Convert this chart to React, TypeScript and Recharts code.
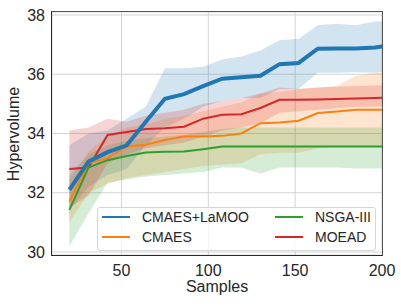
import React from 'react';
import { ComposedChart, Area, Line, XAxis, YAxis, CartesianGrid } from 'recharts';

// Samples on the x axis
const samples = [20, 31, 42, 53, 64, 75, 86, 97, 108, 119, 130, 141, 152, 163, 174, 185, 196, 207];

// CMAES+LaMOO
const lamooMean = [32.1, 33.05, 33.37, 33.6, 34.4, 35.17, 35.33, 35.6, 35.85, 35.9, 35.95, 36.34, 36.38, 36.86, 36.87, 36.87, 36.9, 37.0];
const lamooHi = [33.6, 34.0, 34.1, 34.5, 34.9, 36.2, 36.2, 36.25, 36.5, 36.6, 36.8, 37.15, 37.2, 37.65, 37.7, 37.65, 37.78, 37.8];
const lamooLo = [31.4, 32.2, 32.6, 32.8, 33.6, 34.2, 34.5, 34.9, 35.1, 35.2, 35.2, 35.5, 35.5, 36.05, 36.05, 36.07, 36.05, 36.15];

// CMAES
const cmaesMean = [31.7, 33.0, 33.17, 33.56, 33.62, 33.78, 33.9, 33.9, 33.92, 34.0, 34.35, 34.37, 34.43, 34.69, 34.74, 34.8, 34.8, 34.8];
const cmaesHi = [32.4, 33.4, 33.9, 34.2, 34.3, 34.5, 34.6, 34.75, 34.9, 35.05, 35.35, 35.4, 35.5, 35.55, 35.6, 35.95, 36.05, 36.1];
const cmaesLo = [31.0, 32.0, 32.3, 32.5, 32.6, 32.7, 32.8, 32.9, 32.95, 33.0, 33.3, 33.35, 33.35, 33.5, 33.55, 33.55, 33.55, 33.55];

// NSGA-III
const nsgaMean = [31.42, 32.85, 33.1, 33.24, 33.36, 33.38, 33.39, 33.47, 33.56, 33.56, 33.56, 33.56, 33.56, 33.56, 33.56, 33.56, 33.56, 33.56];
const nsgaHi = [32.6, 33.3, 33.6, 33.75, 33.85, 33.9, 33.95, 34.05, 34.15, 34.2, 34.2, 34.2, 34.2, 34.2, 34.2, 34.2, 34.2, 34.2];
const nsgaLo = [30.2, 31.3, 32.35, 32.45, 32.55, 32.6, 32.65, 32.7, 32.85, 32.85, 32.65, 32.85, 32.85, 32.85, 32.85, 32.82, 32.82, 32.82];

// MOEAD
const moeadMean = [32.8, 32.85, 33.95, 34.05, 34.15, 34.18, 34.23, 34.5, 34.63, 34.65, 34.86, 35.14, 35.14, 35.15, 35.16, 35.18, 35.2, 35.22];
const moeadHi = [34.1, 34.2, 34.5, 34.4, 34.6, 34.7, 34.8, 35.0, 35.1, 35.2, 35.35, 35.55, 35.5, 35.55, 35.58, 35.6, 35.62, 35.64];
const moeadLo = [31.5, 31.9, 33.0, 33.3, 33.5, 33.6, 33.7, 33.9, 34.1, 34.2, 34.35, 34.7, 34.75, 34.8, 34.85, 34.9, 34.9, 34.95];

const xTicks = [50, 100, 150, 200];
const yTicks = [30, 32, 34, 36, 38];

const BLUE = '#1f77b4';
const ORANGE = '#ff7f0e';
const GREEN = '#2ca02c';
const RED = '#d62728';

const data = samples.map((s, i) => ({
  s,
  lamoo: lamooMean[i],
  lamooBand: [lamooLo[i], lamooHi[i]],
  cmaes: cmaesMean[i],
  cmaesBand: [cmaesLo[i], cmaesHi[i]],
  nsga: nsgaMean[i],
  nsgaBand: [nsgaLo[i], nsgaHi[i]],
  moead: moeadMean[i],
  moeadBand: [moeadLo[i], moeadHi[i]],
}));

const FONT = '"Liberation Sans", Arial, sans-serif';
const TEXT = '#262626';

const legendItems = [
  { name: 'CMAES+LaMOO', color: BLUE, left: 102, top: 217 },
  { name: 'CMAES', color: ORANGE, left: 102, top: 237 },
  { name: 'NSGA-III', color: GREEN, left: 275, top: 217 },
  { name: 'MOEAD', color: RED, left: 275, top: 237 },
];

export default function App() {
  return (
    <div style={{ position: 'absolute', left: 0, top: 0, width: 401, height: 306, background: '#fff', fontFamily: FONT }}>
      <ComposedChart width={401} height={306} data={data} margin={{ top: 12, right: 19, left: 0, bottom: 0 }}>
        <CartesianGrid stroke="#d4d4d4" strokeWidth={1} />
        <XAxis
          dataKey="s"
          type="number"
          domain={[10, 200]}
          ticks={xTicks}
          allowDataOverflow
          height={51}
          tickLine={false}
          axisLine={false}
          tickSize={0}
          tickMargin={10}
          tick={{ fill: TEXT, fontSize: 16, fontFamily: FONT }}
        />
        <YAxis
          type="number"
          domain={[29.9, 38.1]}
          ticks={yTicks}
          allowDataOverflow
          width={52}
          tickLine={false}
          axisLine={false}
          tickSize={0}
          tickMargin={7}
          tick={{ fill: TEXT, fontSize: 16, fontFamily: FONT }}
        />
        <Area type="linear" dataKey="lamooBand" stroke="none" fill={BLUE} fillOpacity={0.2} isAnimationActive={false} activeDot={false} />
        <Area type="linear" dataKey="cmaesBand" stroke="none" fill={ORANGE} fillOpacity={0.2} isAnimationActive={false} activeDot={false} />
        <Area type="linear" dataKey="nsgaBand" stroke="none" fill={GREEN} fillOpacity={0.2} isAnimationActive={false} activeDot={false} />
        <Area type="linear" dataKey="moeadBand" stroke="none" fill={RED} fillOpacity={0.2} isAnimationActive={false} activeDot={false} />
        <Line type="linear" dataKey="moead" stroke={RED} strokeWidth={2} dot={false} activeDot={false} isAnimationActive={false} />
        <Line type="linear" dataKey="nsga" stroke={GREEN} strokeWidth={2} dot={false} activeDot={false} isAnimationActive={false} />
        <Line type="linear" dataKey="cmaes" stroke={ORANGE} strokeWidth={2} dot={false} activeDot={false} isAnimationActive={false} />
        <Line type="linear" dataKey="lamoo" stroke={BLUE} strokeWidth={4} dot={false} activeDot={false} isAnimationActive={false} />
      </ComposedChart>

      {/* plot frame */}
      <div style={{ position: 'absolute', left: 51, top: 11, width: 330, height: 243, border: '1.5px solid #2a2a2a', borderTopColor: '#555', borderRightColor: '#555', pointerEvents: 'none' }} />

      {/* legend */}
      <div style={{ position: 'absolute', left: 97, top: 207, width: 277, height: 42, border: '1px solid #d6d6d6', borderRadius: 3, background: 'rgba(255,255,255,0.8)' }} />
      {legendItems.map((it) => (
        <div key={it.name} style={{ position: 'absolute', left: it.left, top: it.top - 8, height: 16, display: 'flex', alignItems: 'center' }}>
          <div style={{ width: 28, height: 2, background: it.color }} />
          <span style={{ marginLeft: 12, fontSize: 14, color: TEXT, lineHeight: '16px', whiteSpace: 'nowrap' }}>{it.name}</span>
        </div>
      ))}

      {/* axis titles */}
      <div style={{ position: 'absolute', left: 52, width: 330, top: 279, textAlign: 'center', fontSize: 16, lineHeight: '16px', color: TEXT }}>Samples</div>
      <div style={{ position: 'absolute', left: 13.5, top: 134, transform: 'translate(-50%, -50%) rotate(-90deg)', fontSize: 16, lineHeight: '16px', color: TEXT, whiteSpace: 'nowrap' }}>Hypervolume</div>
    </div>
  );
}
